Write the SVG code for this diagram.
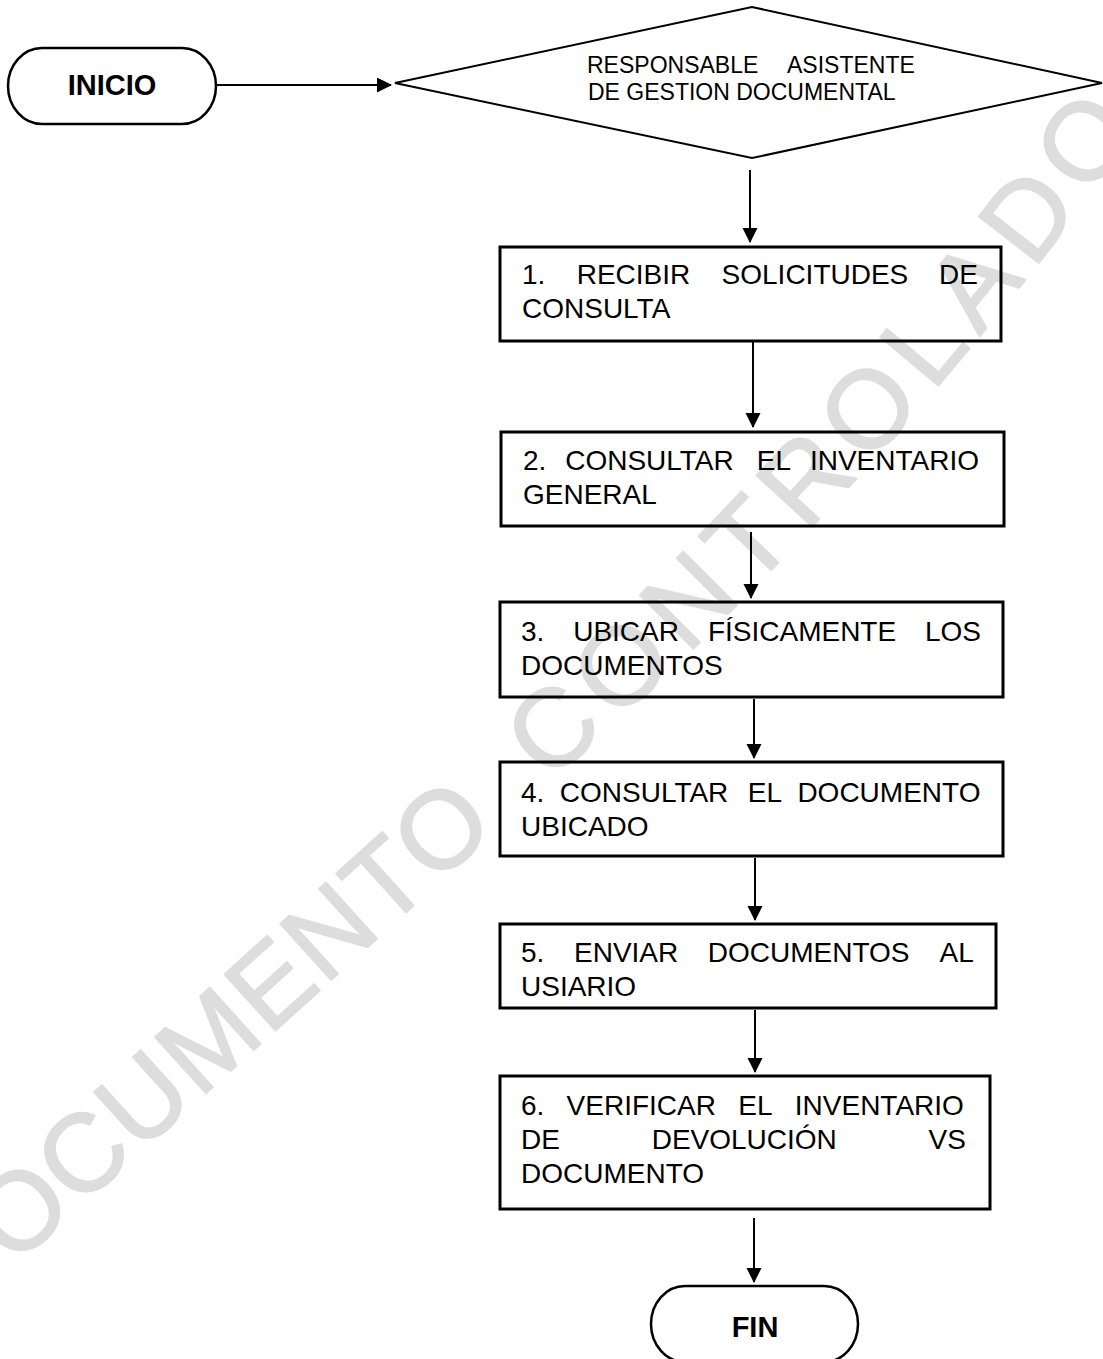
<svg xmlns="http://www.w3.org/2000/svg" width="1103" height="1359" viewBox="0 0 1103 1359">
  <style>
    .box { fill: none; stroke: #000; stroke-width: 3; }
    .term { fill: none; stroke: #000; stroke-width: 2.5; }
    .dia { fill: none; stroke: #000; stroke-width: 2; }
    .t { font-family: "Liberation Sans", Arial, sans-serif; font-size: 28px; fill: #000; }
    .td { font-family: "Liberation Sans", Arial, sans-serif; font-size: 23px; fill: #000; }
    .tb { font-family: "Liberation Sans", Arial, sans-serif; font-size: 29px; font-weight: bold; fill: #000; text-anchor: middle; }
    .wm { font-family: "Liberation Sans", Arial, sans-serif; font-size: 110px; fill: #dddddd; stroke: #dddddd; stroke-width: 2; stroke-linejoin: round; }
    .conn line { stroke: #000; stroke-width: 2; marker-end: url(#ah); }
  </style>
  <defs>
    <marker id="ah" markerUnits="userSpaceOnUse" markerWidth="16" markerHeight="16" refX="14" refY="7.5" orient="auto">
      <path d="M0,0 L15,7.5 L0,15 z" fill="#000"/>
    </marker>
    <path id="wmpath" d="M-47,1322 L580,755 Q885,480 1147,120"/>
  </defs>

  <g id="watermark">
    <text class="wm"><textPath href="#wmpath"><tspan letter-spacing="2">DOCUMENTO</tspan><tspan letter-spacing="35"> </tspan><tspan letter-spacing="12">CONTROLADO</tspan></textPath></text>
  </g>

  <g id="connectors" class="conn">
    <line x1="216" y1="85" x2="391" y2="85"/>
    <line x1="750" y1="170" x2="750" y2="242"/>
    <line x1="753" y1="341" x2="753" y2="427"/>
    <line x1="751" y1="532" x2="751" y2="598"/>
    <line x1="754" y1="699" x2="754" y2="758"/>
    <line x1="755" y1="858" x2="755" y2="920"/>
    <line x1="755" y1="1010" x2="755" y2="1072"/>
    <line x1="754" y1="1218" x2="754" y2="1282"/>
  </g>

  <g id="inicio">
    <rect class="term" x="8" y="48" width="208" height="76" rx="34" ry="38"/>
    <text class="tb" x="112" y="95">INICIO</text>
  </g>

  <g id="responsable">
    <polygon class="dia" points="395,83 752,7 1102,83 752,158"/>
    <text class="td" y="73"><tspan x="587">RESPONSABLE</tspan><tspan x="787">ASISTENTE</tspan></text>
    <text class="td" x="588" y="100">DE GESTION DOCUMENTAL</text>
  </g>

  <g id="paso1">
    <rect class="box" x="500" y="247" width="501" height="94"/>
    <text class="t" y="284"><tspan x="522">1.</tspan><tspan x="576.7">RECIBIR</tspan><tspan x="721.6">SOLICITUDES</tspan><tspan x="939">DE</tspan></text>
    <text class="t" x="522" y="318">CONSULTA</text>
  </g>

  <g id="paso2">
    <rect class="box" x="501" y="432" width="503" height="94"/>
    <text class="t" y="470"><tspan x="523">2.</tspan><tspan x="565.2">CONSULTAR</tspan><tspan x="756.8">EL</tspan><tspan x="809.9">INVENTARIO</tspan></text>
    <text class="t" x="523" y="504">GENERAL</text>
  </g>

  <g id="paso3">
    <rect class="box" x="500" y="602" width="503" height="95"/>
    <text class="t" y="641"><tspan x="521">3.</tspan><tspan x="573.2">UBICAR</tspan><tspan x="707.9">FÍSICAMENTE</tspan><tspan x="925">LOS</tspan></text>
    <text class="t" x="521" y="675">DOCUMENTOS</text>
  </g>

  <g id="paso4">
    <rect class="box" x="500" y="762" width="503" height="94"/>
    <text class="t" y="802"><tspan x="521">4.</tspan><tspan x="559.8">CONSULTAR</tspan><tspan x="747.8">EL</tspan><tspan x="797.4">DOCUMENTO</tspan></text>
    <text class="t" x="521" y="836">UBICADO</text>
  </g>

  <g id="paso5">
    <rect class="box" x="500" y="924" width="496" height="84"/>
    <text class="t" y="962"><tspan x="521">5.</tspan><tspan x="574">ENVIAR</tspan><tspan x="707.8">DOCUMENTOS</tspan><tspan x="939.6">AL</tspan></text>
    <text class="t" x="521" y="996">USIARIO</text>
  </g>

  <g id="paso6">
    <rect class="box" x="500" y="1076" width="490" height="133"/>
    <text class="t" y="1115"><tspan x="521">6.</tspan><tspan x="566.6">VERIFICAR</tspan><tspan x="738.3">EL</tspan><tspan x="794.8">INVENTARIO</tspan></text>
    <text class="t" y="1149"><tspan x="521">DE</tspan><tspan x="651.7">DEVOLUCIÓN</tspan><tspan x="928.6">VS</tspan></text>
    <text class="t" x="521" y="1183">DOCUMENTO</text>
  </g>

  <g id="fin">
    <rect class="term" x="651" y="1286" width="207" height="76" rx="34" ry="38"/>
    <text class="tb" x="755" y="1337">FIN</text>
  </g>
</svg>
